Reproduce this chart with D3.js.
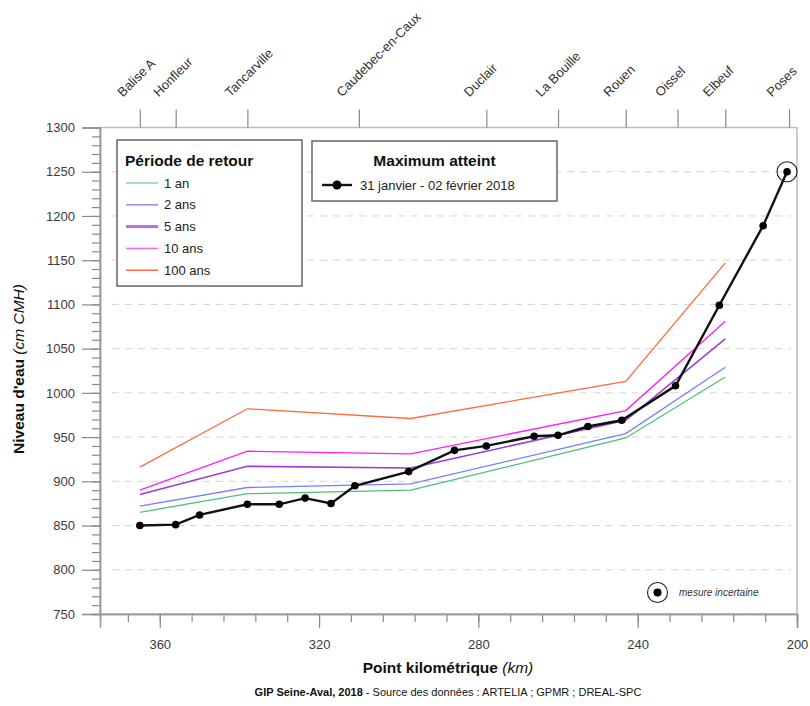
<!DOCTYPE html>
<html>
<head>
<meta charset="utf-8">
<script src="https://cdn.jsdelivr.net/npm/d3@7/dist/d3.min.js"></script>
<style>
  body { margin: 0; background: #fff; }
  svg { display: block; font-family: "Liberation Sans", Arial, sans-serif; }
</style>
</head>
<body>
<svg id="chart" width="810" height="706"></svg>
<script>
// ---------- DATA ----------
const stations   = ["Balise A","Honfleur","Tancarville","Caudebec-en-Caux","Duclair","La Bouille","Rouen","Oissel","Elbeuf","Poses"];
const stationKm  = [365, 356, 338, 310, 278, 260, 243, 230, 218, 202];

const periodKm   = [365, 338, 297, 243, 218];
const rp1an      = [865, 886, 890, 949, 1018];
const rp2ans     = [872, 893, 897, 954, 1029];
const rp5ans     = [885, 917, 915, 969, 1061];
const rp10ans    = [890, 934, 931, 980, 1081];
const rp100ans   = [916, 982, 971, 1013, 1147];

const periodNames  = ["1 an", "2 ans", "5 ans", "10 ans", "100 ans"];
const periodColors = ["#4cc07a", "#7c7cff", "#9a3fd0", "#ff1aff", "#ff6a3d"];

const maxKm  = [365, 356, 350, 338, 330, 323.5, 317, 311, 297.5, 286, 278, 266, 260, 252.5, 244, 230.5, 219.5, 208.5, 202.5];
const maxVal = [850, 851, 862, 874, 874, 881, 875, 895, 911, 935, 940, 951, 952, 962, 969, 1008, 1099, 1189, 1250];
const uncertainIdx = [18];

const xTicks = [360, 320, 280, 240, 200];
const yTicks = [750, 800, 850, 900, 950, 1000, 1050, 1100, 1150, 1200, 1250, 1300];

// ---------- LAYOUT ----------
const L = 100, R = 797, T = 127.5, B = 614;
const svg = d3.select("#chart");
const x = d3.scaleLinear().domain([375, 200]).range([L, R]);
const y = d3.scaleLinear().domain([750, 1300]).range([B, T]);

// gridlines
svg.append("g").selectAll("line")
  .data(yTicks.filter(v => v > 750 && v < 1300))
  .join("line")
  .attr("x1", L + 12).attr("x2", R - 6)
  .attr("y1", d => y(d)).attr("y2", d => y(d))
  .attr("stroke", "#d4d4d4").attr("stroke-width", 1)
  .attr("stroke-dasharray", "7,6");

// frame
svg.append("rect").attr("x", L).attr("y", T).attr("width", R - L).attr("height", B - T)
  .attr("fill", "none").attr("stroke", "#bdbdbd").attr("stroke-width", 1.5);

// Y axis
const yMinor = d3.range(750, 1301, 10);
const yAxisG = svg.append("g").attr("transform", `translate(${L},0)`);
yAxisG.call(d3.axisLeft(y).tickValues(yMinor).tickSize(8).tickFormat(""));
const yMajG = svg.append("g").attr("transform", `translate(${L},0)`);
yMajG.call(d3.axisLeft(y).tickValues(yTicks).tickSize(18).tickPadding(7).tickFormat(d3.format("d")));
[yAxisG, yMajG].forEach(g => {
  g.select(".domain").attr("stroke", "#9a9a9a").attr("stroke-width", 1.5);
  g.selectAll(".tick line").attr("stroke", "#8a8a8a").attr("stroke-width", 1.2);
});
yMajG.selectAll(".tick text").attr("font-size", 13).attr("fill", "#3a3a3a")
  .attr("font-family", "Liberation Sans, Arial, sans-serif");

// X axis bottom
const xMinor = d3.range(200, 376, 8);
const xAxisG = svg.append("g").attr("transform", `translate(0,${B})`);
xAxisG.call(d3.axisBottom(x).tickValues(xMinor).tickSize(8).tickFormat(""));
const xMajG = svg.append("g").attr("transform", `translate(0,${B})`);
xMajG.call(d3.axisBottom(x).tickValues(xTicks).tickSize(14).tickPadding(12).tickFormat(d3.format("d")));
[xAxisG, xMajG].forEach(g => {
  g.select(".domain").attr("stroke", "#9a9a9a").attr("stroke-width", 1.5);
  g.selectAll(".tick line").attr("stroke", "#8a8a8a").attr("stroke-width", 1.2);
});
xMajG.selectAll(".tick text").attr("font-size", 13).attr("fill", "#3a3a3a")
  .attr("font-family", "Liberation Sans, Arial, sans-serif");

// Top station axis
const topG = svg.append("g").attr("transform", `translate(0,${T})`);
topG.call(d3.axisTop(x).tickValues(stationKm).tickSize(18).tickFormat(""));
topG.select(".domain").attr("stroke", "none");
topG.selectAll(".tick line").attr("stroke", "#8a8a8a").attr("stroke-width", 1.2);
svg.append("g").selectAll("text")
  .data(stations)
  .join("text")
  .attr("transform", (d, i) => `translate(${x(stationKm[i]) - 17},${T - 30}) rotate(-45)`)
  .attr("text-anchor", "start")
  .attr("font-size", 13).attr("fill", "#333")
  .text(d => d);

// Return period lines
const periodSeries = [rp1an, rp2ans, rp5ans, rp10ans, rp100ans];
const line = d3.line().x(d => x(d[0])).y(d => y(d[1]));
periodSeries.forEach((vals, k) => {
  svg.append("path")
    .datum(periodKm.map((km, i) => [km, vals[i]]))
    .attr("d", line)
    .attr("fill", "none")
    .attr("stroke", periodColors[k])
    .attr("stroke-width", k === 2 ? 1.6 : 1.3);
});

// Maximum line
const maxData = maxKm.map((km, i) => [km, maxVal[i]]);
svg.append("path").datum(maxData).attr("d", line)
  .attr("fill", "none").attr("stroke", "#111").attr("stroke-width", 2.4);
svg.append("g").selectAll("circle").data(maxData).join("circle")
  .attr("cx", d => x(d[0])).attr("cy", d => y(d[1])).attr("r", 3.8).attr("fill", "#000");
svg.append("g").selectAll("circle").data(uncertainIdx.map(i => maxData[i])).join("circle")
  .attr("cx", d => x(d[0])).attr("cy", d => y(d[1])).attr("r", 10)
  .attr("fill", "none").attr("stroke", "#222").attr("stroke-width", 1.1);

// Uncertain legend (bottom right)
svg.append("circle").attr("cx", 657.5).attr("cy", 592.5).attr("r", 10)
  .attr("fill", "none").attr("stroke", "#222").attr("stroke-width", 1.1);
svg.append("circle").attr("cx", 657.5).attr("cy", 592.5).attr("r", 4).attr("fill", "#000");
svg.append("text").attr("x", 679).attr("y", 596).attr("font-size", 10).attr("font-style", "italic")
  .attr("fill", "#333").text("mesure incertaine");

// Legend 1: Période de retour
const lg1 = svg.append("g");
lg1.append("rect").attr("x", 117).attr("y", 140).attr("width", 185).attr("height", 146)
  .attr("fill", "#fff").attr("stroke", "#666").attr("stroke-width", 1.5);
lg1.append("text").attr("x", 125).attr("y", 166).attr("font-size", 15.5).attr("font-weight", "bold")
  .attr("fill", "#111").text("Période de retour");
const legendColors = ["#7fdca0", "#8a8aff", "#b970e0", "#ff66ff", "#ff6a3d"];
periodNames.forEach((n, i) => {
  const yy = 183 + i * 21.8;
  lg1.append("line").attr("x1", 126).attr("x2", 158).attr("y1", yy).attr("y2", yy)
    .attr("stroke", legendColors[i]).attr("stroke-width", i === 2 ? 3 : 1.5);
  lg1.append("text").attr("x", 164).attr("y", yy + 4.5).attr("font-size", 13).attr("fill", "#222").text(n);
});

// Legend 2: Maximum atteint
const lg2 = svg.append("g");
lg2.append("rect").attr("x", 312).attr("y", 141).attr("width", 245).attr("height", 60)
  .attr("fill", "#fff").attr("stroke", "#666").attr("stroke-width", 1.5);
lg2.append("text").attr("x", 434.5).attr("y", 166).attr("text-anchor", "middle").attr("font-size", 15.5)
  .attr("font-weight", "bold").attr("fill", "#111").text("Maximum atteint");
lg2.append("line").attr("x1", 322).attr("x2", 352).attr("y1", 185).attr("y2", 185)
  .attr("stroke", "#111").attr("stroke-width", 2.4);
lg2.append("circle").attr("cx", 337).attr("cy", 185).attr("r", 4.5).attr("fill", "#000");
lg2.append("text").attr("x", 360).attr("y", 190).attr("font-size", 13).attr("fill", "#222")
  .text("31 janvier - 02 février 2018");

// Axis titles
const yt = svg.append("text").attr("transform", "translate(24,369) rotate(-90)")
  .attr("text-anchor", "middle").attr("font-size", 15.5).attr("fill", "#111");
yt.append("tspan").attr("font-weight", "bold").text("Niveau d'eau ");
yt.append("tspan").attr("font-style", "italic").text("(cm CMH)");

const xt = svg.append("text").attr("x", 448).attr("y", 673)
  .attr("text-anchor", "middle").attr("font-size", 15.5).attr("fill", "#111");
xt.append("tspan").attr("font-weight", "bold").text("Point kilométrique ");
xt.append("tspan").attr("font-style", "italic").text("(km)");

const cap = svg.append("text").attr("x", 448).attr("y", 696)
  .attr("text-anchor", "middle").attr("font-size", 11).attr("fill", "#111");
cap.append("tspan").attr("font-weight", "bold").text("GIP Seine-Aval, 2018");
cap.append("tspan").text(" - Source des données : ARTELIA ; GPMR ; DREAL-SPC");
</script>
</body>
</html>
